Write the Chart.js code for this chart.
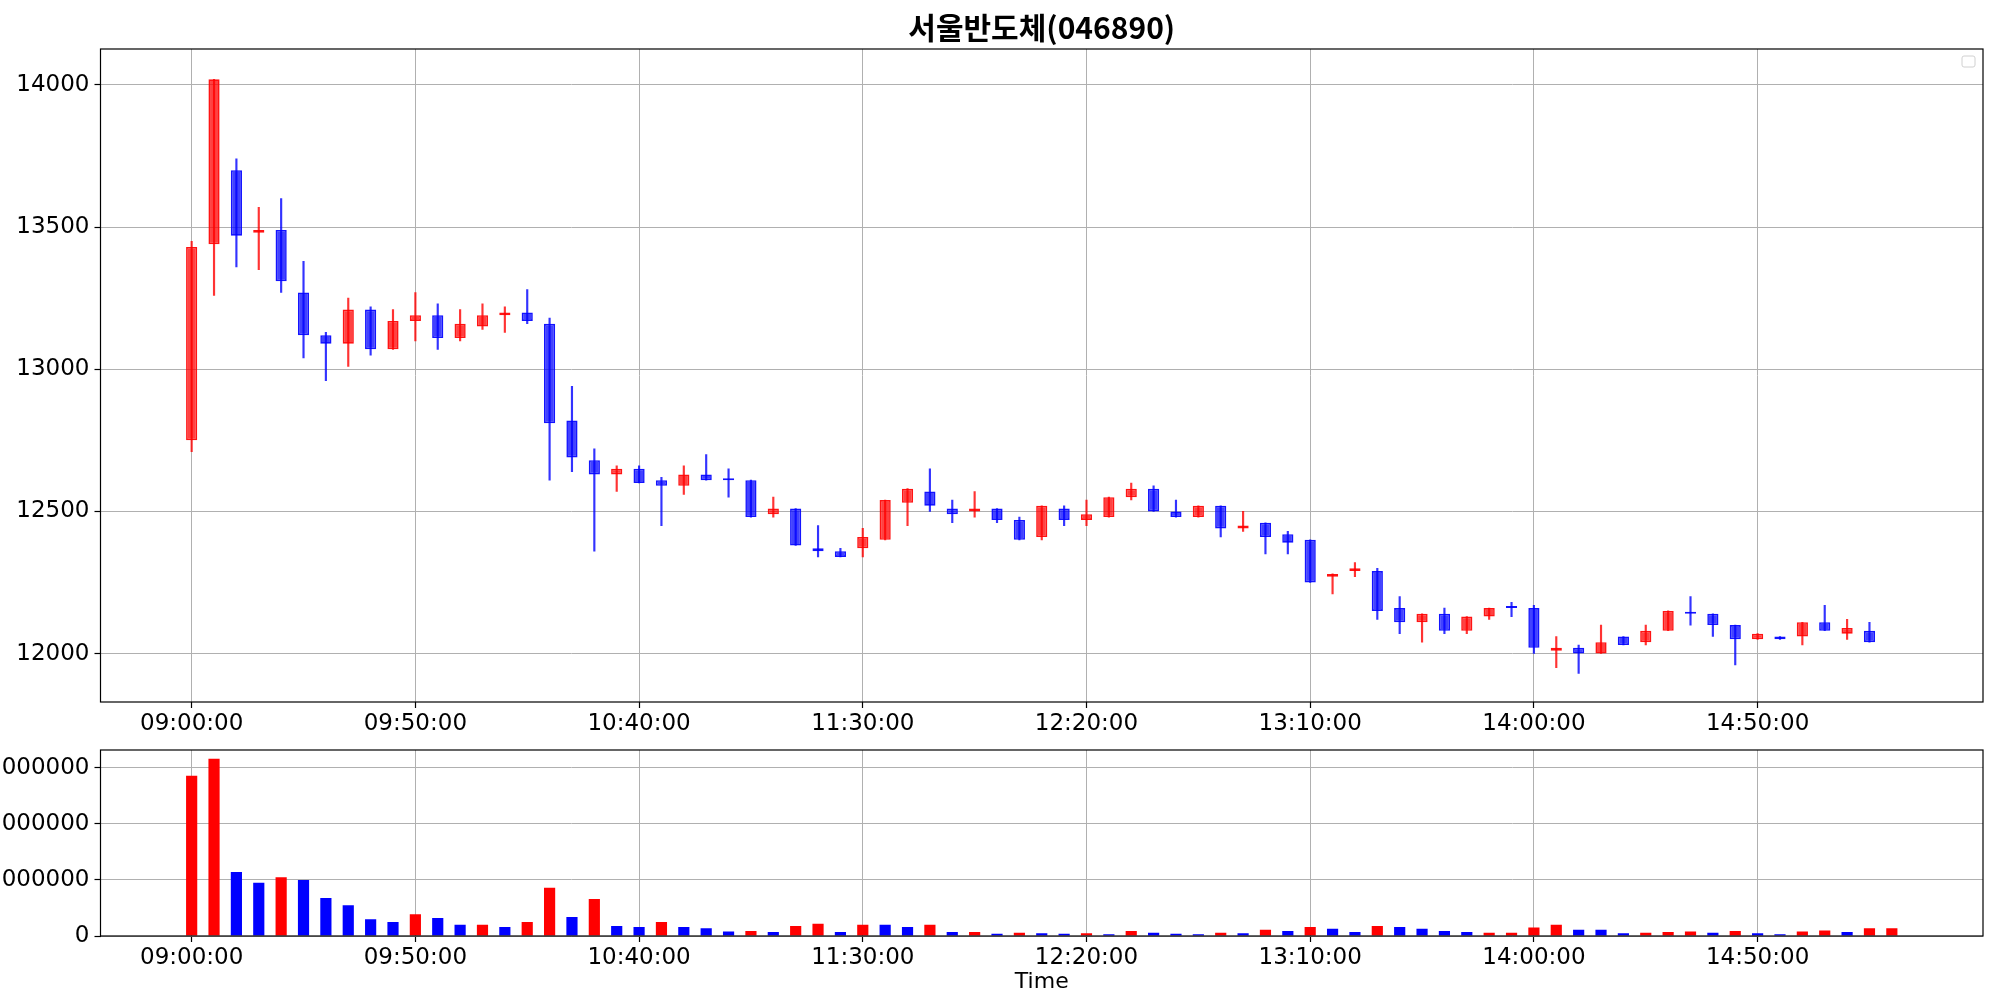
<!DOCTYPE html>
<html><head><meta charset="utf-8">
<script src="https://cdn.jsdelivr.net/npm/chart.js@4.4.1/dist/chart.umd.min.js"></script>
<style>
html,body{margin:0;padding:0;background:#fff;width:2000px;height:1000px;overflow:hidden}
#wrap{position:relative;width:2000px;height:1000px;background:#fff}
#price{position:absolute;left:0;top:0}
#volume{position:absolute;left:0;top:740px}
</style></head><body>
<div id="wrap">
<canvas id="price" width="2000" height="740"></canvas>
<canvas id="volume" width="2000" height="260"></canvas>
</div>
<script>
// ---------------- data ----------------
const chartTitle = '서울반도체(046890)';
const xAxisTitle = 'Time';
const times = [
 '09:00','09:05','09:10','09:15','09:20','09:25','09:30','09:35','09:40','09:45','09:50','09:55',
 '10:00','10:05','10:10','10:15','10:20','10:25','10:30','10:35','10:40','10:45','10:50','10:55',
 '11:00','11:05','11:10','11:15','11:20','11:25','11:30','11:35','11:40','11:45','11:50','11:55',
 '12:00','12:05','12:10','12:15','12:20','12:25','12:30','12:35','12:40','12:45','12:50','12:55',
 '13:00','13:05','13:10','13:15','13:20','13:25','13:30','13:35','13:40','13:45','13:50','13:55',
 '14:00','14:05','14:10','14:15','14:20','14:25','14:30','14:35','14:40','14:45','14:50','14:55',
 '15:00','15:05','15:10','15:15','15:20'
];
const opens = [12750,13440,13700,13480,13490,13270,13120,13090,13210,13070,13170,13190,13110,13150,13190,13200,
 13160,12820,12680,12630,12650,12610,12590,12630,12610,12610,12490,12510,12370,12360,12370,12400,12530,12570,
 12510,12500,12510,12470,12410,12510,12470,12480,12550,12580,12500,12480,12520,12440,12460,12420,12400,12270,
 12290,12290,12160,12110,12140,12080,12130,12160,12160,12010,12020,12000,12060,12040,12080,12140,12140,12100,
 12050,12060,12060,12110,12070,12080];
const highs = [13450,14020,13740,13570,13600,13380,13130,13250,13220,13210,13270,13230,13210,13230,13220,13280,
 13180,12940,12720,12660,12660,12620,12660,12700,12650,12610,12550,12510,12450,12370,12440,12540,12580,12650,
 12540,12570,12510,12480,12520,12520,12540,12550,12600,12590,12540,12520,12520,12500,12460,12430,12400,12280,
 12320,12300,12200,12140,12160,12130,12160,12180,12170,12060,12030,12100,12060,12100,12150,12200,12140,12100,
 12070,12060,12110,12170,12120,12110];
const lows = [12710,13260,13360,13350,13270,13040,12960,13010,13050,13070,13100,13070,13100,13140,13130,13160,
 12610,12640,12360,12570,12600,12450,12560,12610,12550,12480,12480,12380,12340,12340,12340,12400,12450,12500,
 12460,12480,12460,12400,12400,12450,12450,12480,12540,12500,12480,12480,12410,12430,12350,12350,12250,12210,
 12270,12120,12070,12040,12070,12070,12120,12130,12000,11950,11930,12000,12030,12030,12080,12100,12060,11960,
 12050,12050,12030,12080,12050,12040];
const closes = [13430,14020,13470,13490,13310,13120,13090,13210,13070,13170,13190,13110,13160,13190,13200,13170,
 12810,12690,12630,12650,12600,12590,12630,12610,12610,12480,12510,12380,12360,12340,12410,12540,12580,12520,
 12490,12510,12470,12400,12520,12470,12490,12550,12580,12500,12480,12520,12440,12450,12410,12390,12250,12280,
 12300,12150,12110,12140,12080,12130,12160,12160,12020,12020,12000,12040,12030,12080,12150,12140,12100,12050,
 12070,12050,12110,12080,12090,12040];
const volumes = [2860000,3160000,1140000,950000,1050000,1000000,680000,550000,300000,250000,390000,320000,
 200000,200000,160000,250000,860000,340000,660000,180000,160000,250000,160000,140000,80000,90000,70000,180000,
 220000,70000,200000,200000,160000,200000,70000,70000,40000,60000,50000,40000,50000,30000,90000,60000,40000,
 30000,60000,50000,110000,90000,160000,130000,70000,180000,160000,130000,90000,70000,60000,60000,150000,200000,
 110000,110000,50000,60000,70000,80000,60000,90000,50000,30000,80000,100000,70000,140000,140000];
const volumeDirection = ['up','up','dn','dn','up','dn','dn','dn','dn','dn','up','dn','dn','up','dn','up','up',
 'dn','up','dn','dn','up','dn','dn','dn','up','dn','up','up','dn','up','dn','dn','up','dn','up','dn','up','dn',
 'dn','up','dn','up','dn','dn','dn','up','dn','up','dn','up','dn','dn','up','dn','dn','dn','dn','up','up','up',
 'up','dn','dn','dn','up','up','up','dn','up','dn','dn','up','up','dn','up','up'];
const timeTickLabels = ['09:00:00','09:50:00','10:40:00','11:30:00','12:20:00','13:10:00','14:00:00','14:50:00'];
const priceTicks = [12000,12500,13000,13500,14000];
const volumeTicks = [0,1000000,2000000,3000000];

// ---------------- styling ----------------
const TICK_FONT = {family:'DejaVu Sans', size:23};
const GRID = {color:'#b0b0b0', lineWidth:1, tickLength:6, tickColor:'#000', tickWidth:1.2, offset:false, drawTicks:true};
const UP_FILL='rgba(255,0,0,0.74)', UP_EDGE='rgba(255,0,0,0.92)', UP_WICK='rgba(255,0,0,0.8)';
const DN_FILL='rgba(0,0,255,0.74)', DN_EDGE='rgba(0,0,255,0.92)', DN_WICK='rgba(0,0,255,0.8)';

const tickPositions = timeTickLabels.map(t => times.indexOf(t.slice(0,5)));
const xLabel = v => { const k = tickPositions.indexOf(v); return k >= 0 ? timeTickLabels[k] : ''; };
const candleUp = opens.map((o,i) => closes[i] > o);

const framePlugin = {
  id:'frame',
  afterDraw(chart, args, opts){
    const {ctx, chartArea:a} = chart;
    ctx.save();
    ctx.strokeStyle='#000'; ctx.lineWidth=1.2;
    ctx.strokeRect(a.left, a.top, a.right-a.left, a.bottom-a.top);
    if (opts && opts.emptyLegend){
      const w=13,h=11,x=a.right-8-w,y=a.top+7,r=2;
      ctx.beginPath();
      ctx.moveTo(x+r,y);ctx.lineTo(x+w-r,y);ctx.quadraticCurveTo(x+w,y,x+w,y+r);
      ctx.lineTo(x+w,y+h-r);ctx.quadraticCurveTo(x+w,y+h,x+w-r,y+h);
      ctx.lineTo(x+r,y+h);ctx.quadraticCurveTo(x,y+h,x,y+h-r);
      ctx.lineTo(x,y+r);ctx.quadraticCurveTo(x,y,x+r,y);ctx.closePath();
      ctx.fillStyle='rgba(255,255,255,0.8)';ctx.fill();
      ctx.strokeStyle='#d0d0d0';ctx.lineWidth=1;ctx.stroke();
    }
    ctx.restore();
  }
};

function makeX(height, withTitle){
  return {
    type:'linear', min:-4.075, max:80.075, offset:false, z:1,
    afterBuildTicks: a => { a.ticks = tickPositions.map(v => ({value:v})); },
    afterFit: a => { a.height = height; a.paddingLeft = 0; a.paddingRight = 0; },
    ticks:{callback: v => xLabel(v), font:TICK_FONT, color:'#000', padding:2, maxRotation:0, autoSkip:false},
    grid:GRID, border:{display:false},
    title: withTitle ? {display:true, text:xAxisTitle, font:{family:'DejaVu Sans', size:22}, color:'#000', padding:{top:0,bottom:5}} : {display:false}
  };
}
function makeY(min, max, tickVals){
  return {
    type:'linear', min:min, max:max, z:1,
    afterBuildTicks: a => { a.ticks = tickVals.map(v => ({value:v})); },
    afterFit: a => { a.width = 100.5; a.paddingTop = 0; a.paddingBottom = 0; },
    ticks:{callback: v => String(v), font:TICK_FONT, color:'#000', padding:5},
    grid:GRID, border:{display:false}
  };
}

Chart.defaults.font.family = 'DejaVu Sans';

new Chart(document.getElementById('price'), {
  type:'bar',
  data:{ datasets:[
    { label:'wick', order:2, grouped:false, barThickness:1.5,
      data: opens.map((o,i) => ({x:i, y:[lows[i], highs[i]]})),
      backgroundColor: candleUp.map(u => u ? UP_WICK : DN_WICK), borderWidth:0 },
    { label:'body', order:1, grouped:false, barPercentage:0.625, categoryPercentage:0.8, minBarLength:2,
      data: opens.map((o,i) => ({x:i, y:[o, closes[i]]})),
      backgroundColor: candleUp.map(u => u ? UP_FILL : DN_FILL),
      borderColor: candleUp.map(u => u ? UP_EDGE : DN_EDGE), borderWidth:1.6, borderSkipped:false }
  ]},
  options:{
    responsive:false, animation:false, devicePixelRatio:1,
    layout:{padding:{left:0, right:17, top:0, bottom:0}},
    scales:{ x: makeX(38, false), y: makeY(11829.5, 14126.6, priceTicks) },
    plugins:{
      legend:{display:false}, tooltip:{enabled:false},
      title:{display:true, text:chartTitle, fullSize:false, color:'#000',
        font:{family:"'Noto Sans CJK KR', sans-serif", size:30, weight:'bold'}, padding:{top:10, bottom:3}},
      frame:{emptyLegend:true}
    }
  },
  plugins:[framePlugin]
});

new Chart(document.getElementById('volume'), {
  type:'bar',
  data:{ datasets:[
    { label:'volume', grouped:false, barPercentage:0.625, categoryPercentage:0.8,
      data: volumes.map((v,i) => ({x:i, y:v})),
      backgroundColor: volumeDirection.map(d => d === 'up' ? '#ff0000' : '#0000ff'), borderWidth:0 }
  ]},
  options:{
    responsive:false, animation:false, devicePixelRatio:1,
    layout:{padding:{left:0, right:17, top:10, bottom:0}},
    scales:{ x: makeX(64, true), y: makeY(0, 3318000, volumeTicks) },
    plugins:{ legend:{display:false}, tooltip:{enabled:false}, frame:{emptyLegend:false} }
  },
  plugins:[framePlugin]
});
</script>
</body></html>
